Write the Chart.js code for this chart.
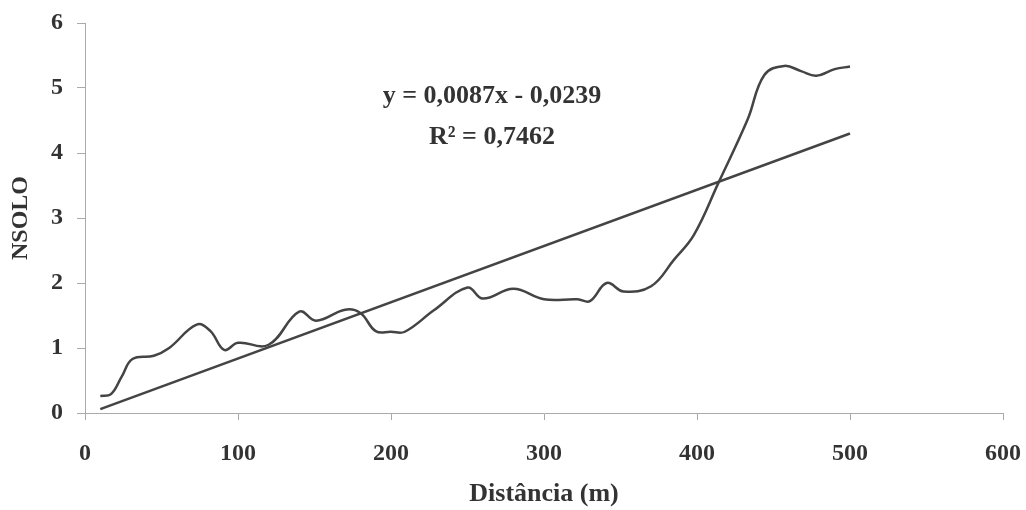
<!DOCTYPE html>
<html>
<head>
<meta charset="utf-8">
<script src="https://cdn.jsdelivr.net/npm/chart.js@4/dist/chart.umd.min.js"></script>
<style>
  body { margin: 0; background: #fff; }
</style>
</head>
<body>
<canvas id="grafico" width="1026" height="510"></canvas>
<script>
// distância (m) e NSOLO
var distancia = [10, 17, 24, 31, 45, 55, 73, 82, 91, 100, 120, 140, 151, 170, 180, 190, 200, 209, 228, 250, 260, 280, 300, 322, 330, 341, 352, 370, 385, 398, 414, 433, 444, 457, 468, 478, 490, 500];
var nsolo =     [0.26, 0.29, 0.56, 0.83, 0.88, 1.0, 1.36, 1.26, 0.97, 1.08, 1.05, 1.56, 1.42, 1.59, 1.54, 1.26, 1.25, 1.25, 1.58, 1.93, 1.76, 1.91, 1.75, 1.75, 1.72, 2.0, 1.87, 1.95, 2.36, 2.74, 3.54, 4.51, 5.2, 5.34, 5.26, 5.19, 5.29, 5.33];

// linha de tendência (extremos)
var tendX = [10, 500];
var tendY = [0.06, 4.3];

var ticksX = [0, 100, 200, 300, 400, 500, 600];
var ticksY = [0, 1, 2, 3, 4, 5, 6];

var equacao = ["y = 0,0087x - 0,0239", "R² = 0,7462"];

var fonte = '"Liberation Serif", "Times New Roman", serif';
var corTexto = '#333';
var corLinha = '#444';
var corEixo = '#aaa';

function pontos(xs, ys) {
    var arr = [];
    for (var i = 0; i < xs.length; i++) {
        arr.push({ x: xs[i], y: ys[i] });
    }
    return arr;
}

var textoEquacao = {
    id: 'textoEquacao',
    afterDatasetsDraw: function (chart) {
        var ctx = chart.ctx;
        var sx = chart.scales.x, sy = chart.scales.y;
        ctx.save();
        ctx.fillStyle = corTexto;
        ctx.font = 'bold 26px ' + fonte;
        ctx.textAlign = 'center';
        ctx.textBaseline = 'middle';
        ctx.fillText(equacao[0], sx.getPixelForValue(266), sy.getPixelForValue(4.87));
        ctx.fillText(equacao[1], sx.getPixelForValue(266), sy.getPixelForValue(4.24));
        ctx.restore();
    }
};

new Chart(document.getElementById("grafico"), {
    type: 'line',
    data: {
        datasets: [
            {
                label: 'NSOLO',
                data: pontos(distancia, nsolo),
                borderColor: corLinha,
                borderWidth: 2.5,
                pointRadius: 0,
                tension: 0.4,
                fill: false
            },
            {
                label: 'Linear',
                data: pontos(tendX, tendY),
                borderColor: corLinha,
                borderWidth: 2.5,
                pointRadius: 0,
                tension: 0,
                fill: false
            }
        ]
    },
    options: {
        responsive: false,
        animation: false,
        layout: { padding: { left: 0, right: 23, top: 23, bottom: 0 } },
        plugins: {
            legend: { display: false },
            tooltip: { enabled: false }
        },
        scales: {
            x: {
                type: 'linear',
                min: 0,
                max: 600,
                afterBuildTicks: function (s) { s.ticks = ticksX.map(function (v) { return { value: v }; }); },
                afterFit: function (s) {
                    s.height = 97;
                    s.paddingLeft = 0;
                    s.paddingRight = 0;
                },
                grid: { drawOnChartArea: false, drawTicks: true, tickLength: 7, color: corEixo },
                border: { color: corEixo, width: 1 },
                ticks: {
                    padding: 19,
                    color: corTexto,
                    font: { family: fonte, size: 24, weight: 'bold' }
                },
                title: {
                    display: true,
                    text: 'Distância (m)',
                    color: corTexto,
                    padding: { top: 0, bottom: 0 },
                    font: { family: fonte, size: 26, weight: 'bold' }
                }
            },
            y: {
                min: 0,
                max: 6,
                afterBuildTicks: function (s) { s.ticks = ticksY.map(function (v) { return { value: v }; }); },
                afterFit: function (s) {
                    s.width = 85;
                    s.paddingTop = 0;
                    s.paddingBottom = 0;
                },
                grid: { drawOnChartArea: false, drawTicks: true, tickLength: 8, color: corEixo },
                border: { color: corEixo, width: 1 },
                ticks: {
                    padding: 14,
                    color: corTexto,
                    font: { family: fonte, size: 24, weight: 'bold' }
                },
                title: {
                    display: true,
                    text: 'NSOLO',
                    color: corTexto,
                    padding: { top: 6, bottom: 0 },
                    font: { family: fonte, size: 24, weight: 'bold' }
                }
            }
        }
    },
    plugins: [textoEquacao]
});
</script>
</body>
</html>
